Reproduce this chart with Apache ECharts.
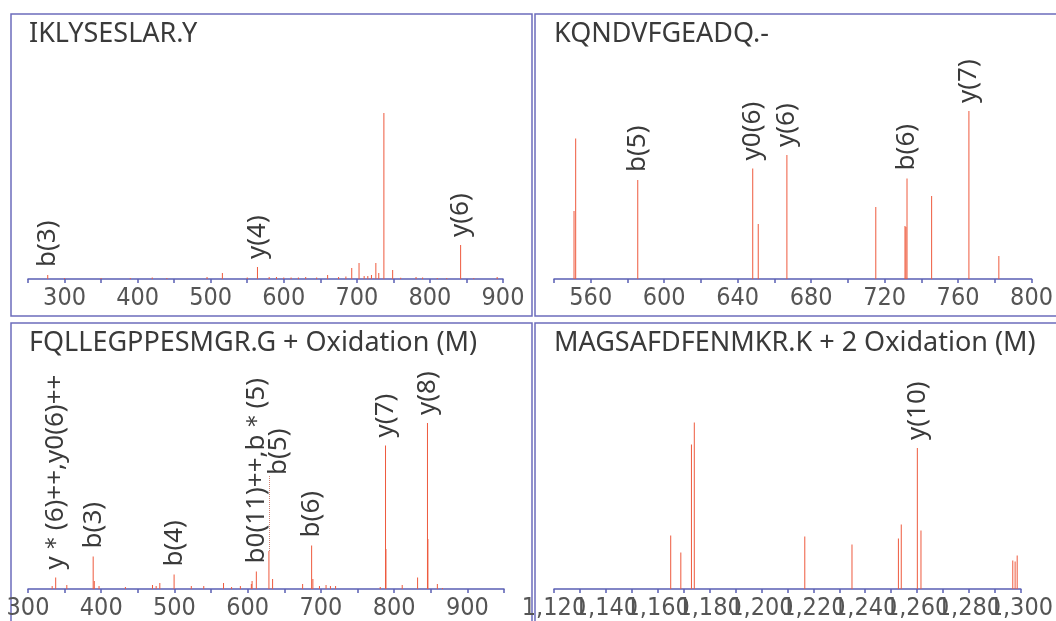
<!DOCTYPE html>
<html>
<head>
<meta charset="utf-8">
<title>MS/MS spectra</title>
<script src="https://cdn.jsdelivr.net/npm/echarts@6/dist/echarts.min.js"></script>
<style>
  html, body { margin: 0; padding: 0; background: #fff; }
  #main { width: 1056px; height: 621px; }
</style>
</head>
<body>
<div id="main"></div>
<script>
// peptide titles
const titles = [
  'IKLYSESLAR.Y',
  'KQNDVFGEADQ.-',
  'FQLLEGPPESMGR.G + Oxidation (M)',
  'MAGSAFDFENMKR.K + 2 Oxidation (M)'
]

// panel 1 : m/z, relative intensity, ion label
const p1Mz = [277, 300, 350, 390, 420, 440, 495, 516, 550, 564, 580, 590, 600, 610, 620, 630, 645, 660, 675, 685, 693, 703, 710, 715, 720, 726, 730, 737, 749, 760, 781, 790, 810, 823, 842, 860, 892]
const p1Int = [2, 0.5, 0.5, 0.5, 0.7, 0.5, 1, 3, 0.7, 6, 1, 1, 0.7, 0.8, 0.8, 1, 0.8, 2, 1, 1.2, 5.5, 8, 1.5, 1.5, 2, 8, 3, 83, 4.5, 0.6, 1, 0.8, 0.5, 0.5, 17, 0.5, 1]
const p1Ion = ['b(3)', '', '', '', '', '', '', '', '', 'y(4)', '', '', '', '', '', '', '', '', '', '', '', '', '', '', '', '', '', '', '', '', '', '', '', '', 'y(6)', '', '']

// panel 2
const p2Mz = [550.9, 551.8, 585.6, 648.2, 651.2, 666.8, 715.2, 731.1, 731.6, 732.2, 745.6, 765.9, 782.2]
const p2Int = [34, 70.3, 49.5, 55.3, 27.5, 62, 36, 26.5, 26, 50.3, 41.5, 84, 11.5]
const p2Ion = ['', '', 'b(5)', 'y0(6)', '', 'y(6)', '', '', '', 'b(6)', '', 'y(7)', '']

// panel 3
const p3Mz = [333, 337.8, 353, 389, 390.5, 397, 433, 470, 475, 480, 499.5, 523, 540, 567, 578, 590, 605, 606, 611.8, 629, 634, 675, 687.3, 689, 698, 707, 713, 720, 781, 788.2, 788.8, 811, 832, 845.5, 846.1, 859, 866]
const p3Int = [1.5, 5.8, 2, 16.3, 4, 1.5, 1, 2, 1.5, 3, 7.2, 1.5, 1.5, 3, 1, 1.5, 2.5, 4, 8.8, 19, 5, 2.5, 21.8, 5, 1.5, 2, 1.5, 1.5, 1, 71.8, 20, 2, 5.8, 83, 25, 2.5, 0.5]
const p3Ion = ['', 'y\uFF0A(6)++,y0(6)++', '', 'b(3)', '', '', '', '', '', '', 'b(4)', '', '', '', '', '', '', '', 'b0(11)++,b\uFF0A(5)', 'b(5)', '', '', 'b(6)', '', '', '', '', '', '', 'y(7)', '', '', '', 'y(8)', '', '', '']

// panel 4
const p4Mz = [1165.0, 1168.9, 1173.0, 1174.1, 1216.7, 1234.9, 1252.8, 1253.9, 1260.1, 1261.5, 1296.9, 1297.8, 1298.6]
const p4Int = [26.7, 18.3, 72.2, 83.3, 26.3, 22.2, 25.2, 32.2, 70.5, 29.3, 14.3, 13.8, 16.8]
const p4Ion = ['', '', '', '', '', '', '', '', 'y(10)', '', '', '', '']

// axis ranges: [min, max, tick step, label step]
const xRanges = [
  [250, 900, 50, 100],
  [540, 800, 20, 40],
  [300, 950, 50, 100],
  [1120, 1300, 10, 20]
]

const chart = echarts.init(document.getElementById('main'))

const frame = '#6c6cbc'
const axisBlue = '#5a5fb4'
const stick = '#ee5a3e'
const textFont = '"Noto Sans", "DejaVu Sans", sans-serif'
const tickFont = '"Liberation Sans Narrow", "DejaVu Sans Condensed", "Liberation Sans", sans-serif'

const grids = [
  { left: 28, top: 79, width: 475, height: 200 },
  { left: 554, top: 79, width: 480, height: 200 },
  { left: 28, top: 389, width: 476, height: 200 },
  { left: 554, top: 389, width: 480, height: 200 }
]

const titlePos = [[29, 21], [554, 21], [29, 330], [554, 330]]

function stickSeries(idx, mz, inten, ions) {
  return {
    type: 'bar',
    xAxisIndex: idx,
    yAxisIndex: idx,
    barWidth: 1,
    barGap: '-100%',
    itemStyle: { color: stick },
    label: {
      show: false,
      position: 'top',
      rotate: 90,
      align: 'left',
      verticalAlign: 'middle',
      distance: 8,
      fontSize: 26,
      fontFamily: textFont,
      color: '#3a3a3a'
    },
    data: mz.map((m, i) => {
      const item = { value: [m, inten[i]] }
      if (ions[i]) {
        item.label = { show: true, formatter: ions[i] }
      }
      return item
    }),
    animation: false
  }
}

const series = [
  stickSeries(0, p1Mz, p1Int, p1Ion),
  stickSeries(1, p2Mz, p2Int, p2Ion),
  stickSeries(2, p3Mz, p3Int, p3Ion),
  stickSeries(3, p4Mz, p4Int, p4Ion)
]

// b(5) in panel 3 sits higher with a dotted leader
const b5 = series[2].data[p3Ion.indexOf('b(5)')]
b5.label.distance = 76
b5.label.offset = [0, 10]
series[2].markLine = {
  symbol: 'none',
  silent: true,
  label: { show: false },
  lineStyle: { color: '#d08070', type: 'dotted', width: 1 },
  data: [[{ coord: [b5.value[0], b5.value[1]] }, { coord: [b5.value[0], 57] }]]
}

chart.setOption({
  backgroundColor: '#fff',
  animation: false,
  title: titles.map((t, i) => ({
    text: t,
    left: titlePos[i][0],
    top: titlePos[i][1],
    padding: 0,
    textStyle: {
      fontSize: 27,
      fontWeight: 'normal',
      fontFamily: textFont,
      color: '#3a3a3a'
    }
  })),
  grid: grids,
  xAxis: xRanges.map((r, i) => ({
    type: 'value',
    gridIndex: i,
    min: r[0],
    max: r[1],
    interval: r[2],
    splitLine: { show: false },
    axisLine: { lineStyle: { color: axisBlue, width: 1.5 } },
    axisTick: { length: 4, lineStyle: { color: axisBlue, width: 1.5 } },
    axisLabel: {
      margin: 7,
      fontSize: 25,
      fontFamily: tickFont,
      color: '#555',
      formatter: v => (v % r[3] === 0 ? v.toLocaleString('en-US') : '')
    }
  })),
  yAxis: grids.map((g, i) => ({
    type: 'value',
    gridIndex: i,
    min: 0,
    max: 100,
    show: false
  })),
  series: series,
  graphic: [
    { type: 'rect', shape: { x: 11, y: 14, width: 521, height: 302 }, style: { fill: 'none', stroke: frame, lineWidth: 1.5 }, silent: true },
    { type: 'rect', shape: { x: 535, y: 14, width: 530, height: 302 }, style: { fill: 'none', stroke: frame, lineWidth: 1.5 }, silent: true },
    { type: 'rect', shape: { x: 11, y: 323, width: 521, height: 310 }, style: { fill: 'none', stroke: frame, lineWidth: 1.5 }, silent: true },
    { type: 'rect', shape: { x: 535, y: 323, width: 530, height: 310 }, style: { fill: 'none', stroke: frame, lineWidth: 1.5 }, silent: true }
  ]
})
</script>
</body>
</html>
